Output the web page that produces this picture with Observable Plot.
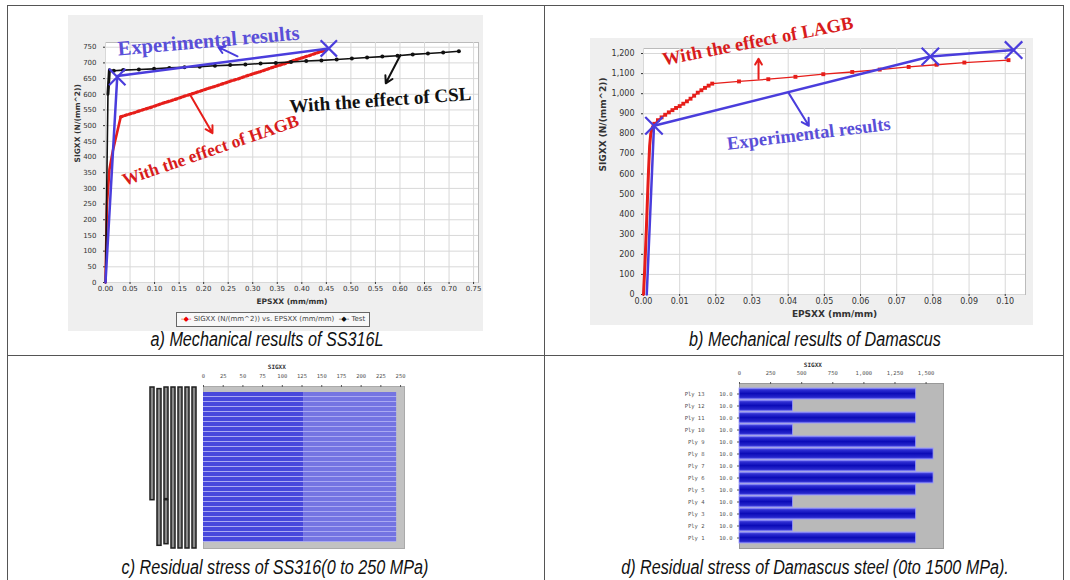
<!DOCTYPE html>
<html><head><meta charset="utf-8">
<script src="https://cdn.jsdelivr.net/npm/d3@7"></script>
<script src="https://cdn.jsdelivr.net/npm/@observablehq/plot@0.6"></script>
<style>
body{margin:0;background:#fff;}
#page{position:relative;width:1070px;height:580px;overflow:hidden;background:#fff;font-family:"Liberation Sans",sans-serif;}
.line{position:absolute;background:#555;}
.panel{position:absolute;background:#efefef;}
.cap{position:absolute;font-family:"Liberation Sans",Arial,sans-serif;font-style:italic;font-size:19.5px;color:#111;text-align:center;white-space:nowrap;transform:translateX(-50%) scaleX(0.83);transform-origin:50% 50%;}
.legend{position:absolute;border:1px solid #666;background:#f8f8f8;font-family:"DejaVu Sans",sans-serif;font-size:7px;color:#444;white-space:nowrap;line-height:13px;padding:0 4px;}
</style></head><body><div id="page"></div>
<script>
// ---------- Panel a : SS316L ----------
const aRedEps = [0, 0.003, 0.008, 0.015, 0.031, 0.045, 0.060, 0.075, 0.090, 0.105, 0.120, 0.135, 0.150, 0.165, 0.180, 0.195, 0.210, 0.225, 0.240, 0.255, 0.270, 0.285, 0.300, 0.315, 0.330, 0.345, 0.360, 0.375, 0.390, 0.405, 0.420, 0.435, 0.450];
const aRedSig = [0, 250, 360, 420, 528, 535, 542, 550, 557, 565, 573, 580, 588, 596, 603, 611, 619, 626, 634, 642, 649, 657, 665, 672, 680, 688, 695, 703, 711, 718, 726, 734, 742];
const aTestEps = [0, 0.005, 0.008, 0.017, 0.036, 0.068, 0.099, 0.130, 0.161, 0.192, 0.223, 0.254, 0.285, 0.316, 0.347, 0.378, 0.409, 0.440, 0.471, 0.502, 0.533, 0.564, 0.595, 0.626, 0.657, 0.688, 0.720];
const aTestSig = [0, 600, 678, 675, 677, 679, 681, 684, 686, 688, 691, 693, 695, 698, 700, 703, 706, 708, 711, 714, 717, 720, 723, 727, 730, 733, 737];
const aExpEps = [0, 0.024, 0.455];
const aExpSig = [0, 658, 746];
const aMarkEps = [0.024, 0.455];
const aMarkSig = [655, 746];
const aXTicks = [0, 0.05, 0.10, 0.15, 0.20, 0.25, 0.30, 0.35, 0.40, 0.45, 0.50, 0.55, 0.60, 0.65, 0.70, 0.75];
const aYTicks = [0, 50, 100, 150, 200, 250, 300, 350, 400, 450, 500, 550, 600, 650, 700, 750];
const aNoteText = ["Experimental results", "With the effect of CSL", "With the effect of HAGB"];
const aNoteX = [0.210, 0.560, 0.214];
const aNoteY = [770, 581, 421];
const aArrX1 = [0.269, 0.601, 0.173];
const aArrY1 = [721, 725, 597];
const aArrX2 = [0.230, 0.571, 0.218];
const aArrY2 = [750, 635, 476];

// ---------- Panel b : Damascus ----------
const bRedEps = [0, 0.0004, 0.0008, 0.0011, 0.0014, 0.0017, 0.002, 0.0025, 0.003, 0.004, 0.005, 0.006, 0.007, 0.008, 0.009, 0.010, 0.011, 0.012, 0.013, 0.014, 0.015, 0.016, 0.017, 0.018, 0.019, 0.0264, 0.0345, 0.042, 0.0497, 0.0577, 0.0653, 0.0733, 0.081, 0.0887, 0.1009];
const bRedSig = [0, 150, 330, 480, 620, 740, 800, 835, 850, 868, 882, 895, 907, 918, 929, 938, 950, 962, 975, 990, 1005, 1017, 1029, 1040, 1050, 1061, 1072, 1084, 1097, 1108, 1120, 1133, 1144, 1155, 1167];
const bExpEps = [0.0009, 0.0029, 0.0793, 0.1023];
const bExpSig = [0, 840, 1185, 1217];
const bMarkEps = [0.0029, 0.0793, 0.1023];
const bMarkSig = [840, 1185, 1217];
const bXTicks = [0, 0.01, 0.02, 0.03, 0.04, 0.05, 0.06, 0.07, 0.08, 0.09, 0.10];
const bYTicks = [0, 100, 200, 300, 400, 500, 600, 700, 800, 900, 1000, 1100, 1200];
const bNoteText = ["With the effect of LAGB", "Experimental results"];
const bNoteX = [0.0316, 0.0457];
const bNoteY = [1262, 800];
const bArrX1 = [0.0318, 0.0401];
const bArrY1 = [1074, 1004];
const bArrX2 = [0.0318, 0.0457];
const bArrY2 = [1174, 840];

// ---------- Panel c : residual stress SS316 ----------
const cPly = [30, 29, 28, 27, 26, 25, 24, 23, 22, 21, 20, 19, 18, 17, 16, 15, 14, 13, 12, 11, 10, 9, 8, 7, 6, 5, 4, 3, 2, 1];
const cInner = [127, 127, 127, 127, 127, 127, 127, 127, 127, 127, 127, 127, 127, 127, 127, 127, 127, 127, 127, 127, 127, 127, 127, 127, 127, 127, 127, 127, 127, 127];
const cOuter = [245, 245, 245, 245, 245, 245, 245, 245, 245, 245, 245, 245, 245, 245, 245, 245, 245, 245, 245, 245, 245, 245, 245, 245, 245, 245, 245, 245, 245, 245];
const cTicks = [0, 25, 50, 75, 100, 125, 150, 175, 200, 225, 250];
const cLabelCol = ["L1", "L2", "L3", "L3", "L4", "L5", "L6", "L7"];
const cLabelFrom = [9, 0.5, 9.2, 0.8, 0, 0, 0, 0];
const cLabelTo = [30, 29.7, 30, 9, 30, 30, 30, 30];

// ---------- Panel d : residual stress Damascus ----------
const dPly = ["Ply 13", "Ply 12", "Ply 11", "Ply 10", "Ply 9", "Ply 8", "Ply 7", "Ply 6", "Ply 5", "Ply 4", "Ply 3", "Ply 2", "Ply 1"];
const dThick = ["10.0", "10.0", "10.0", "10.0", "10.0", "10.0", "10.0", "10.0", "10.0", "10.0", "10.0", "10.0", "10.0"];
const dSig = [1420, 430, 1420, 430, 1420, 1560, 1420, 1560, 1420, 430, 1420, 430, 1420];
const dTicks = [0, 250, 500, 750, 1000, 1250, 1500];

// ---------- helpers ----------
const zipXY = (xs, ys) => xs.map((x, i) => ({x, y: ys[i]}));
const BLUE = "#4a3ddc", BLUE_T = "#5a4fd8", RED = "#e61e1a", RED_T = "#d81c1c";
const serif = "Liberation Serif, Times New Roman, serif";
const page = document.getElementById("page");
function place(node, left, top) { node.style.position = "absolute"; node.style.left = left + "px"; node.style.top = top + "px"; page.appendChild(node); return node; }
function div(cls, css, html) { const d = document.createElement("div"); d.className = cls; Object.assign(d.style, css); if (html) d.innerHTML = html; page.appendChild(d); return d; }
function gradient(id, stops) {
  return () => {
    const defs = d3.create("svg:defs");
    const lg = defs.append("linearGradient").attr("id", id).attr("x1", 0).attr("x2", 0).attr("y1", 0).attr("y2", 1);
    stops.forEach(([o, c]) => lg.append("stop").attr("offset", o).attr("stop-color", c));
    return defs.node();
  };
}
const notes = (t, xs, ys) => t.map((text, i) => ({text, x: xs[i], y: ys[i]}));
const arrows = (x1, y1, x2, y2) => x1.map((v, i) => ({x1: v, y1: y1[i], x2: x2[i], y2: y2[i]}));

// table lines
div("line", {left: "7px", top: "5px", width: "1057px", height: "1px"});
div("line", {left: "7px", top: "5px", width: "1px", height: "580px"});
div("line", {left: "544px", top: "5px", width: "1px", height: "580px"});
div("line", {left: "1063px", top: "5px", width: "1px", height: "580px"});
div("line", {left: "7px", top: "355px", width: "1057px", height: "1px"});

// ---------- panel a ----------
div("panel", {left: "68px", top: "15px", width: "415px", height: "316px"});
const aNotes = notes(aNoteText, aNoteX, aNoteY);
const aRed = zipXY(aRedEps, aRedSig);
const aArr = arrows(aArrX1, aArrY1, aArrX2, aArrY2);
const plotA = Plot.plot({
  width: 430, height: 300, marginLeft: 45, marginRight: 12, marginTop: 28, marginBottom: 32,
  style: {background: "transparent", fontFamily: "DejaVu Sans, sans-serif", fontSize: "7px", color: "#333", overflow: "visible"},
  x: {domain: [0, 0.76]},
  y: {domain: [0, 765]},
  marks: [
    Plot.frame({fill: "white", stroke: "#bbb"}),
    Plot.gridX(aXTicks, {stroke: "#d8d8d8", strokeOpacity: 1}),
    Plot.gridY(aYTicks, {stroke: "#d8d8d8", strokeOpacity: 1}),
    Plot.axisX(aXTicks, {tickFormat: d3.format(".2f"), tickSize: 2, tickPadding: 2, label: null, fontSize: 7}),
    Plot.axisY(aYTicks, {tickSize: 2, label: null, fontSize: 7}),
    Plot.text(["EPSXX (mm/mm)"], {frameAnchor: "bottom", dy: 21, fontWeight: "bold", fontSize: 7.5, fill: "#333"}),
    Plot.text(["SIGXX (N/(mm^2))"], {frameAnchor: "left", dx: -28, rotate: -90, fontWeight: "bold", fontSize: 7.5, fill: "#333"}),
    Plot.line(aRed.slice(0, 5), {x: "x", y: "y", stroke: RED, strokeWidth: 2.6}),
    Plot.line(aRed.slice(4), {x: "x", y: "y", stroke: RED, strokeWidth: 3.2, strokeDasharray: "2.2,2.2"}),
    Plot.line(zipXY(aTestEps, aTestSig), {x: "x", y: "y", stroke: "#111", strokeWidth: 1.6}),
    Plot.line(zipXY(aTestEps, aTestSig).slice(1, 3), {x: "x", y: "y", stroke: "#111", strokeWidth: 3}),
    Plot.dot(zipXY(aTestEps, aTestSig).slice(3), {x: "x", y: "y", fill: "#111", r: 2}),
    Plot.line(zipXY(aExpEps, aExpSig), {x: "x", y: "y", stroke: BLUE, strokeWidth: 2.5}),
    Plot.dot(zipXY(aMarkEps, aMarkSig), {x: "x", y: "y", stroke: BLUE, symbol: "times", r: 7.5, strokeWidth: 2.2}),
    Plot.arrow(aArr.slice(0, 1), {x1: "x1", y1: "y1", x2: "x2", y2: "y2", stroke: BLUE, strokeWidth: 2, headLength: 6}),
    Plot.arrow(aArr.slice(1, 2), {x1: "x1", y1: "y1", x2: "x2", y2: "y2", stroke: "#111", strokeWidth: 2, headLength: 6}),
    Plot.arrow(aArr.slice(2, 3), {x1: "x1", y1: "y1", x2: "x2", y2: "y2", stroke: RED, strokeWidth: 2, headLength: 6}),
    Plot.text(aNotes.slice(0, 1), {x: "x", y: "y", text: "text", rotate: -5, fill: BLUE_T, fontFamily: serif, fontWeight: "bold", fontSize: 20.5}),
    Plot.text(aNotes.slice(1, 2), {x: "x", y: "y", text: "text", rotate: -4, fill: "#111", fontFamily: serif, fontWeight: "bold", fontSize: 19}),
    Plot.text(aNotes.slice(2, 3), {x: "x", y: "y", text: "text", rotate: -19, fill: RED_T, fontFamily: serif, fontWeight: "bold", fontSize: 17.5})
  ]
});
place(plotA, 60, 14);
div("legend", {left: "176px", top: "312px"},
  '<span style="color:#e00">-&#9670;-</span> SIGXX (N/(mm^2)) vs. EPSXX (mm/mm) &nbsp;<span style="color:#111">-&#9670;-</span> Test');

// ---------- panel b ----------
div("panel", {left: "590px", top: "38px", width: "443px", height: "287px"});
const bNotes = notes(bNoteText, bNoteX, bNoteY);
const bArr = arrows(bArrX1, bArrY1, bArrX2, bArrY2);
const bRed = zipXY(bRedEps, bRedSig);
const plotB = Plot.plot({
  width: 445, height: 320, marginLeft: 53, marginRight: 10, marginTop: 43, marginBottom: 31,
  style: {background: "transparent", fontFamily: "DejaVu Sans, sans-serif", fontSize: "8px", color: "#333", overflow: "visible"},
  x: {domain: [0, 0.1056]},
  y: {domain: [0, 1225]},
  marks: [
    Plot.frame({fill: "white", stroke: "#bbb"}),
    Plot.gridX(bXTicks, {stroke: "#d8d8d8", strokeOpacity: 1}),
    Plot.gridY(bYTicks, {stroke: "#d8d8d8", strokeOpacity: 1}),
    Plot.axisX(bXTicks, {tickFormat: d3.format(".2f"), tickSize: 2, tickPadding: 2, label: null, fontSize: 8}),
    Plot.axisY(bYTicks, {tickFormat: d3.format(","), tickSize: 2, label: null, fontSize: 8}),
    Plot.text(["EPSXX (mm/mm)"], {frameAnchor: "bottom", dy: 22, fontWeight: "bold", fontSize: 9, fill: "#333"}),
    Plot.text(["SIGXX (N/(mm^2))"], {frameAnchor: "left", dx: -40, rotate: -90, fontWeight: "bold", fontSize: 9, fill: "#333"}),
    Plot.line(bRed, {x: "x", y: "y", stroke: RED, strokeWidth: 1.3}),
    Plot.line(bRed.slice(0, 9), {x: "x", y: "y", stroke: RED, strokeWidth: 3}),
    Plot.dot(bRed.slice(8), {x: "x", y: "y", fill: RED, r: 2.2, symbol: "square"}),
    Plot.line(zipXY(bExpEps, bExpSig), {x: "x", y: "y", stroke: BLUE, strokeWidth: 2.5}),
    Plot.dot(zipXY(bMarkEps, bMarkSig), {x: "x", y: "y", stroke: BLUE, symbol: "times", r: 8, strokeWidth: 2.2}),
    Plot.arrow(bArr.slice(0, 1), {x1: "x1", y1: "y1", x2: "x2", y2: "y2", stroke: RED, strokeWidth: 2, headLength: 6}),
    Plot.arrow(bArr.slice(1, 2), {x1: "x1", y1: "y1", x2: "x2", y2: "y2", stroke: BLUE, strokeWidth: 2, headLength: 6}),
    Plot.text(bNotes.slice(0, 1), {x: "x", y: "y", text: "text", rotate: -11, fill: RED_T, fontFamily: serif, fontWeight: "bold", fontSize: 18.5}),
    Plot.text(bNotes.slice(1, 2), {x: "x", y: "y", text: "text", rotate: -7, fill: BLUE_T, fontFamily: serif, fontWeight: "bold", fontSize: 18.5})
  ]
});
place(plotB, 590, 5);

// ---------- panel c ----------
const cRows = cPly.map((p, i) => ({ply: p, inner: cInner[i], outer: cOuter[i]}));
const plotC = Plot.plot({
  width: 270, height: 190, marginLeft: 63, marginRight: 6, marginTop: 26, marginBottom: 2,
  style: {background: "transparent", fontFamily: "DejaVu Sans Mono, monospace", fontSize: "5.5px", color: "#555", overflow: "visible"},
  x: {domain: [0, 255]},
  y: {type: "band", domain: cPly, padding: 0, axis: null},
  marks: [
    Plot.frame({fill: "#c2c2c2", stroke: "#aaa"}),
    Plot.barX(cRows, {x1: 0, x2: "outer", y: "ply", fill: "#a9a9f2"}),
    Plot.barX(cRows, {x1: 0, x2: "inner", y: "ply", fill: "#4848dc", insetBottom: 1}),
    Plot.barX(cRows, {x1: "inner", x2: "outer", y: "ply", fill: "#7474e2", insetBottom: 1}),
    Plot.axisX(cTicks, {anchor: "top", tickSize: 2, label: null, fontSize: 5.5}),
    Plot.text(["SIGXX"], {x: 93, frameAnchor: "top", dy: -22, fontWeight: "bold", fontSize: 6, fill: "#333", fontFamily: "DejaVu Sans Mono, monospace"})
  ]
});
place(plotC, 140, 360);
const cLab = cLabelCol.map((c, i) => ({c, y1: cLabelFrom[i], y2: cLabelTo[i]}));
const plotCL = Plot.plot({
  width: 63, height: 172, marginLeft: 8, marginRight: 5, marginTop: 7, marginBottom: 4,
  style: {background: "transparent"},
  x: {type: "band", domain: ["L1", "L2", "L3", "L4", "L5", "L6", "L7"], paddingInner: 0.45, axis: null},
  y: {domain: [0, 30], axis: null},
  marks: [
    Plot.barY(cLab, {x: "c", y1: "y1", y2: "y2", fill: "#8a8a8a", stroke: "#1e1e1e", strokeWidth: 1.5})
  ]
});
place(plotCL, 140, 380);

// ---------- panel d ----------
const dRows = dPly.map((p, i) => ({ply: p, sig: dSig[i], t: dThick[i]}));
const plotD = Plot.plot({
  width: 280, height: 190, marginLeft: 69, marginRight: 7, marginTop: 23, marginBottom: 2,
  style: {background: "transparent", fontFamily: "DejaVu Sans Mono, monospace", fontSize: "5.5px", color: "#555", overflow: "visible"},
  x: {domain: [0, 1640]},
  y: {type: "band", domain: dPly, paddingInner: 0.1, paddingOuter: 0.06},
  marks: [
    gradient("dgrad", [[0, "#8c8cf4"], [0.16, "#3030d4"], [0.5, "#0c0cb8"], [0.84, "#2626cc"], [1, "#6a6aea"]]),
    Plot.frame({fill: "#b9b9b9", stroke: "#999"}),
    Plot.barX(dRows, {x: "sig", y: "ply", fill: "url(#dgrad)", stroke: "#9a9aff", strokeWidth: 0.8}),
    Plot.axisX(dTicks, {anchor: "top", tickSize: 2, tickFormat: d3.format(","), label: null, fontSize: 5.5}),
    Plot.axisY({tickSize: 2, tickPadding: 33, label: null, fontSize: 5.5}),
    Plot.text(dRows, {x: 0, y: "ply", text: "t", dx: -7, textAnchor: "end", fontSize: 5.5, fill: "#555"}),
    Plot.text(["SIGXX"], {x: 590, frameAnchor: "top", dy: -21, fontWeight: "bold", fontSize: 6, fill: "#333"})
  ]
});
place(plotD, 670, 360);

// ---------- captions ----------
div("cap", {left: "267px", top: "328px"}, "a) Mechanical results of SS316L");
div("cap", {left: "815px", top: "328px"}, "b) Mechanical results of Damascus");
div("cap", {left: "275px", top: "556px"}, "c) Residual stress of SS316(0 to 250 MPa)");
div("cap", {left: "815px", top: "556px"}, "d) Residual stress of Damascus steel (0to 1500 MPa).");
</script></body></html>
